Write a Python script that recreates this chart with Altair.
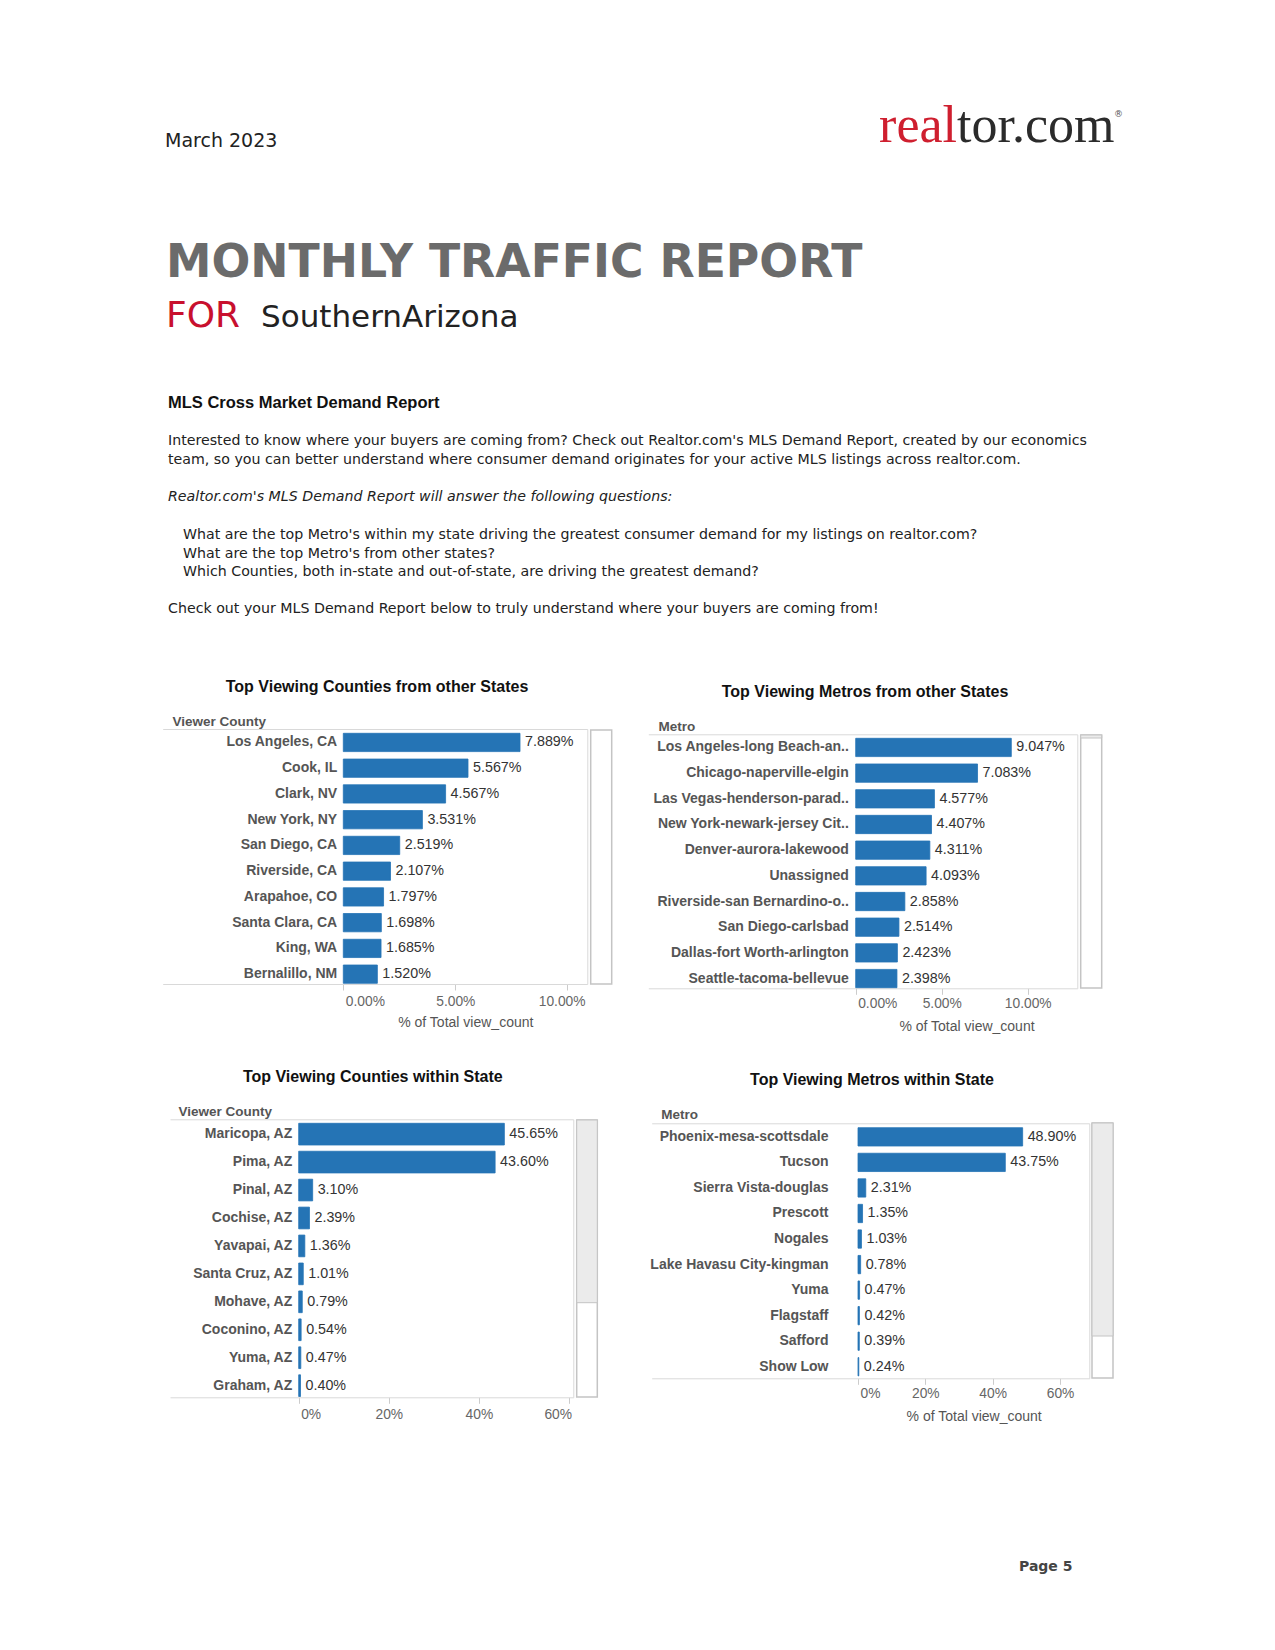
import altair as alt
import pandas as pd

# ---------------- data ----------------
c1_cats = ["Los Angeles, CA", "Cook, IL", "Clark, NV", "New York, NY", "San Diego, CA",
           "Riverside, CA", "Arapahoe, CO", "Santa Clara, CA", "King, WA", "Bernalillo, NM"]
c1_vals = [7.889, 5.567, 4.567, 3.531, 2.519, 2.107, 1.797, 1.698, 1.685, 1.520]

c2_cats = ["Los Angeles-long Beach-an..", "Chicago-naperville-elgin", "Las Vegas-henderson-parad..",
           "New York-newark-jersey Cit..", "Denver-aurora-lakewood", "Unassigned",
           "Riverside-san Bernardino-o..", "San Diego-carlsbad", "Dallas-fort Worth-arlington",
           "Seattle-tacoma-bellevue"]
c2_vals = [9.047, 7.083, 4.577, 4.407, 4.311, 4.093, 2.858, 2.514, 2.423, 2.398]

c3_cats = ["Maricopa, AZ", "Pima, AZ", "Pinal, AZ", "Cochise, AZ", "Yavapai, AZ",
           "Santa Cruz, AZ", "Mohave, AZ", "Coconino, AZ", "Yuma, AZ", "Graham, AZ"]
c3_vals = [45.65, 43.60, 3.10, 2.39, 1.36, 1.01, 0.79, 0.54, 0.47, 0.40]

c4_cats = ["Phoenix-mesa-scottsdale", "Tucson", "Sierra Vista-douglas", "Prescott", "Nogales",
           "Lake Havasu City-kingman", "Yuma", "Flagstaff", "Safford", "Show Low"]
c4_vals = [48.90, 43.75, 2.31, 1.35, 1.03, 0.78, 0.47, 0.42, 0.39, 0.24]

ticks_top = [0, 5, 10]
ticks_bottom = [0, 20, 40, 60]

titles = ["Top Viewing Counties from other States", "Top Viewing Metros from other States",
          "Top Viewing Counties within State", "Top Viewing Metros within State"]
headers = ["Viewer County", "Metro", "Viewer County", "Metro"]
x_title = "% of Total view_count"

body_lines = [
    "Interested to know where your buyers are coming from? Check out Realtor.com's MLS Demand Report, created by our economics",
    "team, so you can better understand where consumer demand originates for your active MLS listings across realtor.com.",
]
italic_line = "Realtor.com's MLS Demand Report will answer the following questions:"
questions = [
    "What are the top Metro's within my state driving the greatest consumer demand for my listings on realtor.com?",
    "What are the top Metro's from other states?",
    "Which Counties, both in-state and out-of-state, are driving the greatest demand?",
]
closing_line = "Check out your MLS Demand Report below to truly understand where your buyers are coming from!"

# ---------------- layout / style ----------------
W, H = 1240, 1610
M = 8
BLUE = "#2574b5"
LINE = "#d9d9d9"
TICK = "#cccccc"
SANS = "Liberation Sans"
DV = "DejaVu Sans"
BODY = 14.2

dummy = pd.DataFrame({"d": [0]})


def P(v):
    return v - M


def txt(text, x, y, size, color="#222222", font=DV, weight="normal", style="normal",
        align="left", baseline="middle"):
    return alt.Chart(dummy).mark_text(
        text=text, font=font, fontSize=size, fontWeight=weight, fontStyle=style,
        color=color, align=align, baseline=baseline
    ).encode(x=alt.value(P(x)), y=alt.value(P(y)))


def rect(x0, x1, y0, y1, fill, stroke="#c4c4c4", sw=1.5):
    return alt.Chart(dummy).mark_rect(fill=fill, stroke=stroke, strokeWidth=sw).encode(
        x=alt.value(P(x0)), x2=alt.value(P(x1)), y=alt.value(P(y0)), y2=alt.value(P(y1)))


def panel(cats, vals, dec, ticks, tick_dec, left, zero, right, ppu, top, bottom,
          first_top, last_bottom, bar_h, label_pad, tick_pad, header, header_x, header_y,
          xtitle_dy=None, clamp_last=None):
    df = pd.DataFrame({"cat": cats, "val": vals})
    n = len(cats)
    xscale = alt.Scale(domain=[-(zero - left) / ppu, (right - zero) / ppu],
                       range=[P(left), P(right)], nice=False, zero=False)
    step = (last_bottom - first_top - bar_h) / (n - 1)
    pin = 1 - bar_h / step
    extra = (bottom - top) - (last_bottom - first_top)
    pout = extra / (2 * step)
    al = (first_top - top) / extra
    yscale = alt.Scale(domain=cats, range=[P(top), P(bottom)], paddingInner=pin,
                       paddingOuter=pout, align=al)

    align_conds = [{"test": "datum.value == 0", "value": "left"}]
    offset_conds = [{"test": "datum.value == 0", "value": 2}]
    if clamp_last is not None:
        last = ticks[-1]
        align_conds.append({"test": f"datum.value == {last}", "value": "right"})
        offset_conds.append({"test": f"datum.value == {last}",
                             "value": clamp_last - (zero + last * ppu)})

    xaxis_kw = dict(
        orient="bottom", offset=P(bottom) - H, values=ticks,
        labelExpr=f"format(datum.value, '.{tick_dec}f') + '%'",
        labelAlign={"condition": align_conds, "value": "center"},
        labelOffset={"condition": offset_conds, "value": 0},
        labelFlush=False, labelFont=SANS, labelFontSize=13.8, labelColor="#666666",
        labelPadding=tick_pad, tickColor=TICK, tickSize=6, domainColor=LINE, grid=False,
    )
    if xtitle_dy is not None:
        xaxis_kw.update(title=x_title, titleX=(zero + right) / 2 - M, titleY=xtitle_dy,
                        titleBaseline="middle", titleAlign="center", titleFont=SANS,
                        titleFontSize=14, titleFontWeight="normal", titleColor="#555555")
    else:
        xaxis_kw.update(title=None)

    bars = alt.Chart(df).mark_bar(color=BLUE, stroke=BLUE, strokeWidth=0.8).encode(
        x=alt.X("val:Q", scale=xscale, stack=None, axis=alt.Axis(**xaxis_kw)),
        y=alt.Y("cat:N", scale=yscale, sort=cats, axis=alt.Axis(
            orient="left", offset=-P(zero), domain=False, ticks=False, grid=False,
            labelPadding=label_pad, labelFont=SANS, labelFontSize=14,
            labelFontWeight="bold", labelColor="#555555", labelLimit=300,
            title=header, titleAngle=0, titleAlign="left", titleBaseline="middle",
            titleX=header_x - zero, titleY=P(header_y), titleFont=SANS, titleFontSize=13.5,
            titleFontWeight="bold", titleColor="#555555")),
    )
    labels = alt.Chart(df).transform_calculate(
        lab=f"format(datum.val, '.{dec}f') + '%'"
    ).mark_text(align="left", baseline="middle", dx=5, font=SANS, fontSize=14.3,
                color="#333333").encode(
        x=alt.X("val:Q", scale=xscale, axis=alt.Axis(
            orient="top", offset=-P(top), labels=False, ticks=False, grid=False,
            title=None, domainColor=LINE)),
        y=alt.Y("cat:N", scale=yscale, sort=cats, axis=alt.Axis(
            orient="right", offset=P(right) - W, labels=False, ticks=False, grid=False,
            title=None, domainColor=LINE)),
        text="lab:N",
    )
    return alt.layer(bars, labels).resolve_axis(x="independent", y="independent")


p1 = panel(c1_cats, c1_vals, 3, ticks_top, 2, 162.7, 343.3, 587.3, 22.4, 729, 984,
           733.3, 983.3, 18.3, 6.6, 4.5, headers[0], 172, 721, 38, clamp_last=585)
p2 = panel(c2_cats, c2_vals, 3, ticks_top, 2, 648.3, 855.7, 1077.3, 17.2, 734.3, 988.3,
           738.3, 987.7, 18.3, 7.4, 2.5, headers[1], 658, 726, 37.7)
p3 = panel(c3_cats, c3_vals, 2, ticks_bottom, 0, 170, 298.7, 573.3, 4.505, 1119.3, 1397.3,
           1123.3, 1396.5, 21.7, 7, 4.0, headers[2], 178, 1111, None, clamp_last=571.5)
p4 = panel(c4_cats, c4_vals, 2, ticks_bottom, 0, 651.7, 858, 1089.3, 3.367, 1123.3, 1378.3,
           1127.7, 1375.9, 18.3, 30, 2.5, headers[3], 660.7, 1114, 37.7)

decor = [
    # header
    txt("March 2023", 165, 147, 19, color="#222222", baseline="alphabetic"),
    txt("real", 957, 141.7, 52, color="#cf1f2f", font="Liberation Serif", align="right",
        baseline="alphabetic"),
    txt("tor.com", 957, 141.7, 52, color="#2b2b2b", font="Liberation Serif",
        baseline="alphabetic"),
    txt("®", 1114, 114, 9, color="#555555", font=DV),
    txt("MONTHLY TRAFFIC REPORT", 166, 276.5, 45.7, color="#6b6b6b", weight="bold",
        baseline="alphabetic"),
    txt("FOR", 166, 327, 36, color="#c8102e", baseline="alphabetic"),
    txt("SouthernArizona", 261, 327, 31, color="#222222", baseline="alphabetic"),
    txt("MLS Cross Market Demand Report", 168, 403, 16.5, color="#111111", font=SANS,
        weight="bold"),
    txt(body_lines[0], 168, 441, BODY),
    txt(body_lines[1], 168, 460, BODY),
    txt(italic_line, 168, 496.5, BODY, style="italic"),
    txt(questions[0], 183, 534.5, BODY),
    txt(questions[1], 183, 553.5, BODY),
    txt(questions[2], 183, 572, BODY),
    txt(closing_line, 168, 609, BODY),
    # chart titles
    txt(titles[0], 377, 687, 16, color="#111111", font=SANS, weight="bold", align="center"),
    txt(titles[1], 865, 692, 16, color="#111111", font=SANS, weight="bold", align="center"),
    txt(titles[2], 372.8, 1076.7, 16, color="#111111", font=SANS, weight="bold", align="center"),
    txt(titles[3], 872, 1080, 16, color="#111111", font=SANS, weight="bold", align="center"),
    # scrollbars
    rect(590.7, 611.7, 730, 984, "white"),
    rect(1080.7, 1101.7, 735, 988, "white"),
    rect(1080.7, 1101.7, 735, 738, "#ebebeb", sw=1),
    rect(576.7, 597.3, 1120, 1397, "white"),
    rect(576.7, 597.3, 1120, 1302.7, "#ebebeb", sw=1),
    rect(1092, 1113, 1123, 1378, "white"),
    rect(1092, 1113, 1123, 1336, "#ebebeb", sw=1),
    # footer
    txt("Page 5", 1019, 1566.5, 14, color="#444444", weight="bold"),
]

chart = alt.layer(*decor, p1, p2, p3, p4).resolve_scale(
    x="independent", y="independent"
).properties(
    width=W, height=H, padding=0, background="white",
    autosize=alt.AutoSizeParams(type="none"),
).configure_view(strokeWidth=0)

chart.save("out.html", embed_options={"renderer": "svg", "actions": False})
